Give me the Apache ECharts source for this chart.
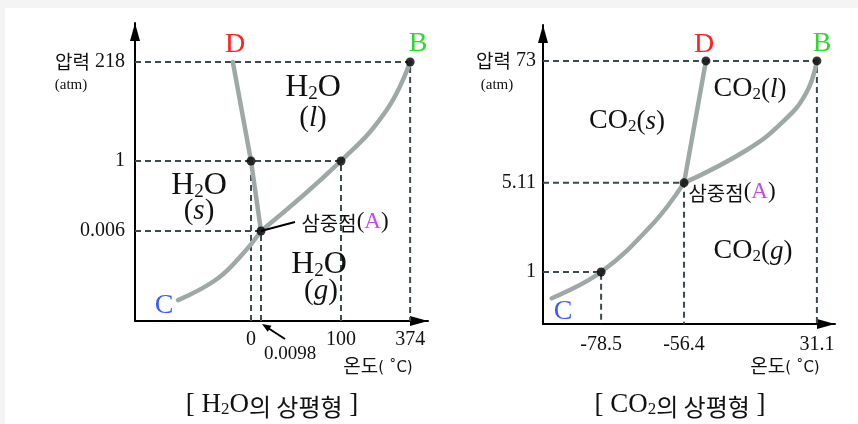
<!DOCTYPE html>
<html lang="ko">
<head>
<meta charset="UTF-8">
<title>상평형</title>
<script src="https://cdn.jsdelivr.net/npm/echarts@6/dist/echarts.min.js"></script>
<style>
  html, body { margin: 0; padding: 0; background: #f4f4f4; }
  #paper { position: absolute; left: 5px; top: 8px; width: 853px; height: 416px; background: #fff; }
  #chart { position: absolute; left: 0; top: 0; width: 858px; height: 424px; }
</style>
</head>
<body>
<div id="paper"></div>
<div id="chart"></div>
<script>
// schematic diagram: both axes run 0..100 (not to scale), ticks sit where the figure puts them

// H2O
const h2oTempLabels = ['0', '100', '374'];
const h2oTempAt = [39.6, 70.3, 93.9];
const h2oPresLabels = ['218', '1', '0.006'];
const h2oPresAt = [86.9, 53.7, 30.2];
const h2oMelt = [[33.4, 86.9], [39.6, 53.7], [43.0, 30.2]];                       // D - A
const h2oSubl = [[14.7, 7.0], [28.0, 14.1], [37.2, 23.0], [43.0, 30.2]];         // C - A
const h2oVap = [[43.0, 30.2], [70.3, 53.7], [85.9, 70.8], [93.9, 86.9]];         // A - B
const h2oDots = [[39.6, 53.7], [70.3, 53.7], [93.9, 86.9], [43.0, 30.2]];
const h2oGuides = [[39.6, 53.7], [70.3, 53.7], [93.9, 86.9], [43.0, 30.2]];

// CO2
const co2TempLabels = ['-78.5', '-56.4', '31.1'];
const co2TempAt = [19.9, 48.3, 93.8];
const co2PresLabels = ['73', '5.11', '1'];
const co2PresAt = [88.0, 47.2, 17.4];
const co2Melt = [[48.3, 47.2], [55.8, 88.0]];
const co2Subl = [[3.0, 8.6], [19.9, 17.4], [37.8, 33.7], [48.3, 47.2]];
const co2Vap = [[48.3, 47.2], [69.8, 58.2], [82.0, 67.5], [90.0, 77.0], [93.8, 88.0]];
const co2Dots = [[19.9, 17.4], [48.3, 47.2], [55.8, 88.0], [93.8, 88.0]];
const co2Guides = [[19.9, 17.4], [48.3, 47.2], [93.8, 88.0]];

const SERIF = 'Liberation Serif';
const KO = 'Noto Sans CJK KR';
const CURVE = '#9ea9a7';
const DASH = '#3a4a4e';

function pick(labels, at, v) {
    let best = 0;
    at.forEach((a, i) => { if (Math.abs(a - v) < Math.abs(at[best] - v)) best = i; });
    return labels[best];
}

function xAxisFor(idx, labels, at) {
    return {
        gridIndex: idx, type: 'value', min: 0, max: 100,
        axisLine: { lineStyle: { color: '#000', width: 2 }, symbol: ['none', 'triangle'], symbolSize: [10, 18], symbolOffset: [0, -9] },
        axisTick: { show: false },
        splitLine: { show: false },
        axisLabel: {
            customValues: at, margin: idx === 0 ? 9 : 11,
            fontFamily: SERIF, fontSize: 20, color: '#111',
            formatter: v => pick(labels, at, v)
        }
    };
}

function yAxisFor(idx, labels, at) {
    return {
        gridIndex: idx, type: 'value', min: 0, max: 100,
        axisLine: { lineStyle: { color: '#000', width: 2 }, symbol: ['none', 'triangle'], symbolSize: [10, 18], symbolOffset: [0, -9] },
        axisTick: { show: false },
        splitLine: { show: false },
        axisLabel: {
            customValues: at, margin: idx === 0 ? 10 : 7,
            fontFamily: SERIF, fontSize: 20, color: '#111',
            formatter: v => {
                const t = pick(labels, at, v);
                return t === labels[0] ? '{k|압력} ' + t : t;
            },
            rich: { k: { fontFamily: KO, fontSize: 19, color: '#111' } }
        }
    };
}

function guideSeries(idx, pts) {
    return pts.map(p => ({
        type: 'line', xAxisIndex: idx, yAxisIndex: idx, symbol: 'none', z: 1,
        data: [[0, p[1]], [p[0], p[1]], [p[0], 0]],
        lineStyle: { color: DASH, width: 2, type: [6, 4] }
    }));
}

function curve(idx, pts, smooth, extra) {
    return Object.assign({
        type: 'line', xAxisIndex: idx, yAxisIndex: idx, symbol: 'none', z: 3,
        data: pts, smooth: smooth,
        lineStyle: { color: CURVE, width: 4.5, cap: 'round' }
    }, extra || {});
}

function dots(idx, pts) {
    return {
        type: 'scatter', xAxisIndex: idx, yAxisIndex: idx, z: 5,
        data: pts, symbolSize: 9, itemStyle: { color: '#000' }
    };
}

// rich text styles for annotations
const rich = {
    f: { fontFamily: SERIF, fontSize: 32, fill: '#111', verticalAlign: 'bottom' },
    s: { fontFamily: SERIF, fontSize: 19, fill: '#111', verticalAlign: 'bottom' },
    p: { fontFamily: SERIF, fontSize: 29, fill: '#111', verticalAlign: 'bottom' },
    i: { fontFamily: SERIF, fontSize: 29, fontStyle: 'italic', fill: '#111', verticalAlign: 'bottom' },
    cf: { fontFamily: SERIF, fontSize: 28, fill: '#111', verticalAlign: 'bottom' },
    cs: { fontFamily: SERIF, fontSize: 17, fill: '#111', verticalAlign: 'bottom' },
    cp: { fontFamily: SERIF, fontSize: 27, fill: '#111', verticalAlign: 'bottom' },
    ci: { fontFamily: SERIF, fontSize: 27, fontStyle: 'italic', fill: '#111', verticalAlign: 'bottom' },
    k: { fontFamily: KO, fontSize: 20, fill: '#111', verticalAlign: 'bottom' },
    q: { fontFamily: SERIF, fontSize: 23, fill: '#111', verticalAlign: 'bottom' },
    a: { fontFamily: SERIF, fontSize: 23, fill: '#c04cf0', verticalAlign: 'bottom' },
    t: { fontFamily: SERIF, fontSize: 27, fill: '#111', verticalAlign: 'bottom' },
    u: { fontFamily: SERIF, fontSize: 17, fill: '#111', verticalAlign: 'bottom' },
    kt: { fontFamily: KO, fontSize: 24, fill: '#111', verticalAlign: 'bottom' },
    b: { fontFamily: SERIF, fontSize: 27, fill: '#111', verticalAlign: 'bottom' },
    ku: { fontFamily: KO, fontSize: 19, fill: '#111', verticalAlign: 'bottom' },
    cu: { fontFamily: 'DejaVu Sans', fontSize: 15, fill: '#111', verticalAlign: 'bottom' }
};

function txt(x, y, text, fill, size) {
    return {
        type: 'text', x: x, y: y, z: 10,
        style: {
            text: text, rich: rich, align: 'center', verticalAlign: 'middle',
            fontFamily: SERIF, fontSize: size || 19, fill: fill || '#111'
        }
    };
}

const labels = [
    // H2O panel
    txt(235, 45, 'D', '#ff2020', 28),
    txt(418, 44, 'B', '#2ed82e', 28),
    txt(164, 306, 'C', '#3a5cff', 28),
    txt(313, 88, '{f|H}{s|2}{f|O}'),
    txt(313, 118, '{p|(}{i|l}{p|)}'),
    txt(199, 186, '{f|H}{s|2}{f|O}'),
    txt(199, 211, '{p|(}{i|s}{p|)}'),
    txt(319, 265, '{f|H}{s|2}{f|O}'),
    txt(321, 291, '{p|(}{i|g}{p|)}'),
    txt(345, 222, '{k|삼중점}{q|(}{a|A}{q|)}'),
    txt(290, 354, '0.0098', '#111', 19),
    txt(378, 366, '{ku|온도}{cu|( ˚C)}'),
    txt(71, 85, '(atm)', '#111', 15),
    txt(272, 405, '{b|[ }{t|H}{u|2}{t|O}{kt|의 상평형}{b| ]}'),
    // CO2 panel
    txt(704, 45, 'D', '#ff2020', 28),
    txt(822, 44, 'B', '#2ed82e', 28),
    txt(563, 312, 'C', '#3a5cff', 28),
    txt(627, 121, '{cf|CO}{cs|2}{cp|(}{ci|s}{cp|)}'),
    txt(750, 89, '{cf|CO}{cs|2}{cp|(}{ci|l}{cp|)}'),
    txt(753, 251, '{cf|CO}{cs|2}{cp|(}{ci|g}{cp|)}'),
    txt(732, 192, '{k|삼중점}{q|(}{a|A}{q|)}'),
    txt(785, 366, '{ku|온도}{cu|( ˚C)}'),
    txt(497, 85, '(atm)', '#111', 15),
    txt(680, 405, '{b|[ }{t|CO}{u|2}{kt|의 상평형}{b| ]}')
];

// small arrow pointing at the 0.0098 tick
const arrow = [
    { type: 'line', z: 10, shape: { x1: 285, y1: 339, x2: 268, y2: 328 }, style: { stroke: '#000', lineWidth: 2 } },
    { type: 'polygon', z: 10, shape: { points: [[262, 324], [271.5, 325.8], [267.7, 331.8]] }, style: { fill: '#000' } }
];

const chart = echarts.init(document.getElementById('chart'));
chart.setOption({
    animation: false,
    backgroundColor: 'transparent',
    grid: [
        { left: 135, top: 23, width: 293, height: 298, outerBoundsMode: 'none' },
        { left: 543, top: 25, width: 292, height: 299, outerBoundsMode: 'none' }
    ],
    xAxis: [xAxisFor(0, h2oTempLabels, h2oTempAt), xAxisFor(1, co2TempLabels, co2TempAt)],
    yAxis: [yAxisFor(0, h2oPresLabels, h2oPresAt), yAxisFor(1, co2PresLabels, co2PresAt)],
    series: [
        ...guideSeries(0, h2oGuides),
        curve(0, h2oMelt, false),
        curve(0, h2oSubl, 0.4),
        curve(0, h2oVap, 0.45, {
            markLine: {
                silent: true, symbol: 'none', label: { show: false },
                lineStyle: { color: '#000', width: 2, type: 'solid' },
                data: [[{ coord: [43.0, 30.2] }, { coord: [54.6, 33.2] }]]
            }
        }),
        dots(0, h2oDots),
        ...guideSeries(1, co2Guides),
        curve(1, co2Melt, false),
        curve(1, co2Subl, 0.4),
        curve(1, co2Vap, 0.45),
        dots(1, co2Dots)
    ],
    graphic: labels.concat(arrow)
});
</script>
</body>
</html>
